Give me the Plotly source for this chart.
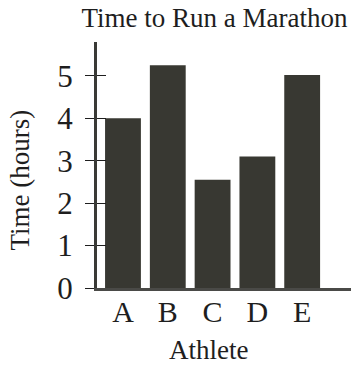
import plotly.graph_objects as go

athletes = ["A", "B", "C", "D", "E"]
hours = [4.0, 5.25, 2.55, 3.1, 5.02]
y_ticks = [0, 1, 2, 3, 4, 5]

title_text = "Time to Run a Marathon"
x_title = "Athlete"
y_title = "Time (hours)"

FONT = "Liberation Serif, Times New Roman, serif"
INK = "#1e1e1e"
BAR = "#383832"

# the page body adds an 8px margin, so the figure is sized to fit inside it
W, H = 351, 362

fig = go.Figure()
fig.add_trace(go.Bar(x=athletes, y=hours, marker=dict(color=BAR, line=dict(width=0)),
                     width=0.8, hoverinfo="x+y"))
# invisible trace carrying the inner half of the crossing ticks
fig.add_trace(go.Scatter(x=athletes, y=hours, yaxis="y2", mode="markers",
                         marker=dict(opacity=0), hoverinfo="skip", showlegend=False))

fig.update_layout(
    width=W, height=H,
    margin=dict(l=89, r=8, t=34, b=82, autoexpand=False),
    paper_bgcolor="white", plot_bgcolor="white",
    showlegend=False,
    font=dict(family=FONT, color=INK),
    title=dict(text=title_text, font=dict(size=27, family=FONT, color=INK),
               xref="container", x=206.5 / W, xanchor="center",
               yref="container", y=1, yanchor="top", pad=dict(t=0)),
    xaxis=dict(range=[-0.58, 5.09], showgrid=False, zeroline=False,
               showline=True, linecolor="#4a4a47", linewidth=2.5,
               ticks="", ticklen=0, tickfont=dict(size=30, family=FONT, color=INK),
               ticklabelstandoff=-5),
    yaxis=dict(range=[0, 5.8], tickvals=y_ticks, showgrid=False, zeroline=False,
               showline=True, linecolor="#3a3a36", linewidth=3,
               ticks="outside", ticklen=9, tickwidth=1, tickcolor=INK,
               tickfont=dict(size=31, family=FONT, color=INK),
               ticklabelstandoff=6),
    yaxis2=dict(range=[0, 5.8], tickvals=y_ticks, overlaying="y", side="left",
                showgrid=False, zeroline=False, showline=False,
                ticks="inside", ticklen=9, tickwidth=1, tickcolor=INK,
                showticklabels=False),
    annotations=[
        dict(text=x_title, xref="paper", yref="paper", x=(208 - 97) / 254, y=-61.5 / 246,
             xanchor="center", yanchor="middle", showarrow=False,
             font=dict(size=27, family=FONT, color=INK)),
        dict(text=y_title, xref="paper", yref="paper", x=-77.5 / 254, y=(288.5 - 180.5) / 246,
             xanchor="center", yanchor="middle", showarrow=False, textangle=-90,
             font=dict(size=27, family=FONT, color=INK)),
    ],
)

fig.write_html("out.html")
